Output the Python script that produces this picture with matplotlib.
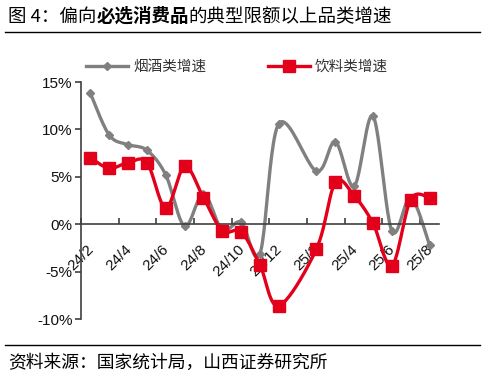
import numpy as np
import matplotlib
matplotlib.use('Agg')
import matplotlib.pyplot as plt
from matplotlib.ticker import FixedLocator, FuncFormatter
from matplotlib.transforms import ScaledTranslation

# monthly growth, 24/2 .. 25/8 (25/1 not published separately)
months = ['24/2', '24/3', '24/4', '24/5', '24/6', '24/7', '24/8', '24/9', '24/10', '24/11',
          '24/12', '25/1', '25/2', '25/3', '25/4', '25/5', '25/6', '25/7', '25/8']
tobacco_alcohol = [13.8, 9.4, 8.4, 7.8, 5.2, -0.2, 3.2, -0.6, 0.2, -3.1,
                   10.6, np.nan, 5.6, 8.7, 4.0, 11.4, -0.7, 2.8, -2.2]
beverages = [7.0, 5.9, 6.5, 6.5, 1.7, 6.1, 2.8, -0.7, -0.8, -4.3,
             -8.6, np.nan, -2.6, 4.4, 3.0, 0.1, -4.4, 2.6, 2.8]
series_names = ['烟酒类增速', '饮料类增速']

GREY = '#808080'
RED = '#E3001B'
CJK = ['Noto Sans CJK SC', 'DejaVu Sans']
NUM = ['Liberation Sans', 'DejaVu Sans']


def smooth(x, y, n=24):
    # Excel style smoothed line through the points (gaps are bridged)
    x = np.asarray(x, float)
    y = np.asarray(y, float)
    ok = ~np.isnan(y)
    p = np.column_stack([x[ok], y[ok]])
    pts = np.vstack([p[0], p, p[-1]])
    out = []
    t = np.linspace(0, 1, n)[:, None]
    for i in range(1, len(pts) - 2):
        p0, p1, p2, p3 = pts[i - 1], pts[i], pts[i + 1], pts[i + 2]
        c1 = p1 + (p2 - p0) / 6
        c2 = p2 - (p3 - p1) / 6
        seg = ((1 - t) ** 3) * p1 + 3 * ((1 - t) ** 2) * t * c1 + 3 * (1 - t) * t ** 2 * c2 + t ** 3 * p2
        out.append(seg if i == 1 else seg[1:])
    out = np.vstack(out)
    return out[:, 0], out[:, 1]


fig = plt.figure(figsize=(4.85, 3.79), dpi=100)
ax = fig.add_axes([0.167, 0.1583, 0.738, 0.6253])

xs = np.arange(len(months))
sx, sy = smooth(xs, tobacco_alcohol)
ax.plot(sx, sy, color=GREY, lw=2.4, solid_capstyle='round', zorder=2)
ax.plot(xs, tobacco_alcohol, ls='none', marker='D', ms=4.5, color=GREY, zorder=2)
sx, sy = smooth(xs, beverages)
ax.plot(sx, sy, color=RED, lw=2.4, solid_capstyle='round', zorder=3)
ax.plot(xs, beverages, ls='none', marker='s', ms=8.5, color=RED, zorder=3)

ax.set_xlim(-0.5, len(months) - 0.5)
ax.set_ylim(-10, 15)

for s in ['top', 'right']:
    ax.spines[s].set_visible(False)
ax.spines['bottom'].set_position(('data', 0))
ax.spines['bottom'].set_color('#404040')
ax.spines['left'].set_color('#404040')
ax.spines['bottom'].set_linewidth(1.2)
ax.spines['left'].set_linewidth(1.2)

ax.yaxis.set_major_locator(FixedLocator([-10, -5, 0, 5, 10, 15]))
ax.yaxis.set_major_formatter(FuncFormatter(lambda v, _: '%d%%' % v))
ax.tick_params(axis='y', direction='out', length=4, width=1.2, color='#404040', pad=2)

ax.set_xticks(xs[::2])
ax.set_xticklabels(months[::2])
ax.set_xticks(np.arange(-0.5, len(months) - 1, 2), minor=True)
ax.tick_params(axis='x', which='major', length=0, pad=13)
ax.tick_params(axis='x', which='minor', direction='in', length=4, width=1.2, color='#404040')
shift = ScaledTranslation(-4 / 100, 0, fig.dpi_scale_trans)
for lab in ax.get_xticklabels():
    lab.set_rotation(45)
    lab.set_ha('right')
    lab.set_va('top')
    lab.set_rotation_mode('anchor')
    lab.set_transform(lab.get_transform() + shift)
for lab in ax.get_xticklabels() + ax.get_yticklabels():
    lab.set_family(NUM)
    lab.set_fontsize(11)
    lab.set_color('#111111')

handles = [plt.Line2D([], [], color=GREY, lw=2.4, marker='D', ms=4.5),
           plt.Line2D([], [], color=RED, lw=2.4, marker='s', ms=8)]
fig.legend(handles, series_names, loc='center left', bbox_to_anchor=(86 / 485, 1 - 67 / 379),
           ncol=2, frameon=False, borderpad=0, borderaxespad=0, handlelength=2.9,
           handletextpad=0.35, columnspacing=4.2, prop={'family': CJK, 'size': 10.5},
           labelcolor='#333333')

# title, bold middle part
TS = 13.3
t1 = fig.text(8 / 485, 1 - 22 / 379, '图 4：偏向', family=CJK, fontsize=TS, va='baseline')
t2 = fig.text(0, 0, '必选消费品', family=CJK, fontsize=TS, weight='bold', va='baseline')
fig.canvas.draw()
r = fig.canvas.get_renderer()
bb = t1.get_window_extent(r)
t2.set_position((bb.x1 / fig.bbox.width, 1 - 22 / 379))
fig.canvas.draw()
bb2 = t2.get_window_extent(r)
fig.text(bb2.x1 / fig.bbox.width, 1 - 22 / 379, '的典型限额以上品类增速', family=CJK,
         fontsize=TS, va='baseline')

fig.add_artist(plt.Line2D([5 / 485, 480 / 485], [1 - 32 / 379] * 2, color='black', lw=1))
fig.add_artist(plt.Line2D([5 / 485, 480 / 485], [1 - 345 / 379] * 2, color='black', lw=1))
fig.text(8 / 485, 1 - 368 / 379, '资料来源：国家统计局，山西证券研究所', family=CJK,
         fontsize=12.8, va='baseline')

fig.savefig('out.png', dpi=100)
